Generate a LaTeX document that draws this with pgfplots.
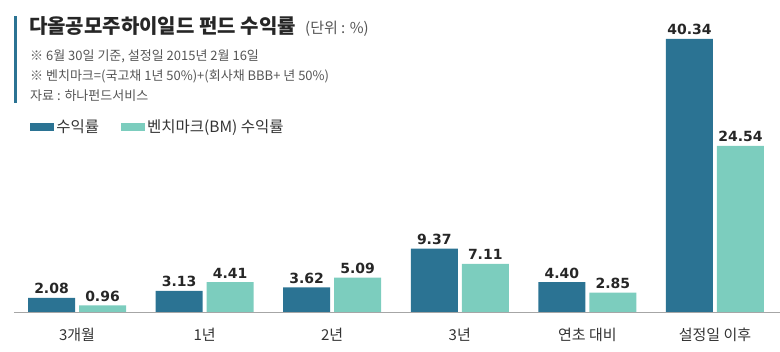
\documentclass[border=0pt]{standalone}
\usepackage{fontspec}
\setmainfont{Noto Sans CJK KR}
\newfontfamily\numfont{DejaVu Sans}
\usepackage{pgfplots}
\pgfplotsset{compat=1.18}
\definecolor{dk}{HTML}{2B7393}
\definecolor{lt}{HTML}{7CCDBE}
\definecolor{txt}{HTML}{333333}
\definecolor{sub}{HTML}{555555}
\begin{document}
\begin{tikzpicture}
\useasboundingbox (0,0) rectangle (780pt,352pt);
\fill[dk] (14pt,249pt) rectangle (17pt,336pt);
\node[anchor=base west, inner sep=0pt, font=\fontsize{20}{20}\selectfont\bfseries, text=black!85] at (29pt,318pt) {다올공모주하이일드 펀드 수익률};
\node[anchor=base west, inner sep=0pt, font=\fontsize{15}{15}\selectfont, text=sub] at (305pt,318pt) {(단위 : \%)};
\node[anchor=base west, inner sep=0pt, font=\fontsize{13}{13}\selectfont, text=sub] at (30pt,291pt) {※ 6월 30일 기준, 설정일 2015년 2월 16일};
\node[anchor=base west, inner sep=0pt, font=\fontsize{13}{13}\selectfont, text=sub] at (30pt,271pt) {※ 벤치마크=(국고채 1년 50\%)+(회사채 BBB+ 년 50\%)};
\node[anchor=base west, inner sep=0pt, font=\fontsize{13}{13}\selectfont, text=sub] at (30pt,251pt) {자료 : 하나펀드서비스};
\begin{axis}[
  at={(14pt,40pt)}, anchor=south west, scale only axis,
  width=766pt, height=311.4pt,
  xmin=-0.494, xmax=5.51, ymin=0, ymax=46,
  ybar=4pt, bar width=47pt,
  axis x line=bottom, axis y line=none,
  x axis line style={-, draw=gray!70, line width=0.8pt},
  xtick=data,
  xticklabels={3개월,1년,2년,3년,연초 대비,설정일 이후},
  xtick style={draw=none},
  xticklabel style={anchor=base, yshift=-26pt, font=\fontsize{15}{15}\selectfont, text=txt},
  point meta=explicit symbolic,
  nodes near coords,
  nodes near coords style={font=\numfont\bfseries\fontsize{14}{14}\selectfont, text=black!85, anchor=base, yshift=4pt, inner sep=0pt},
  legend style={at={(0.021,0.594)}, anchor=west, draw=none, fill=none, legend columns=2,
    font=\fontsize{15.5}{15.5}\selectfont, text=txt, inner sep=0pt,
    /tikz/every even column/.append style={column sep=20pt}},
  legend cell align=left,
]
\addplot[fill=dk, draw=none, legend image code/.code={\fill[dk] (0pt,-4pt) rectangle (24pt,4pt);}]
  coordinates {(0,2.08)[2.08] (1,3.13)[3.13] (2,3.62)[3.62] (3,9.37)[9.37] (4,4.40)[4.40] (5,40.34)[40.34]};
\addlegendentry{수익률}
\addplot[fill=lt, draw=none, legend image code/.code={\fill[lt] (0pt,-4pt) rectangle (24pt,4pt);}]
  coordinates {(0,0.96)[0.96] (1,4.41)[4.41] (2,5.09)[5.09] (3,7.11)[7.11] (4,2.85)[2.85] (5,24.54)[24.54]};
\addlegendentry{벤치마크(BM) 수익률}
\end{axis}
\end{tikzpicture}
\end{document}
